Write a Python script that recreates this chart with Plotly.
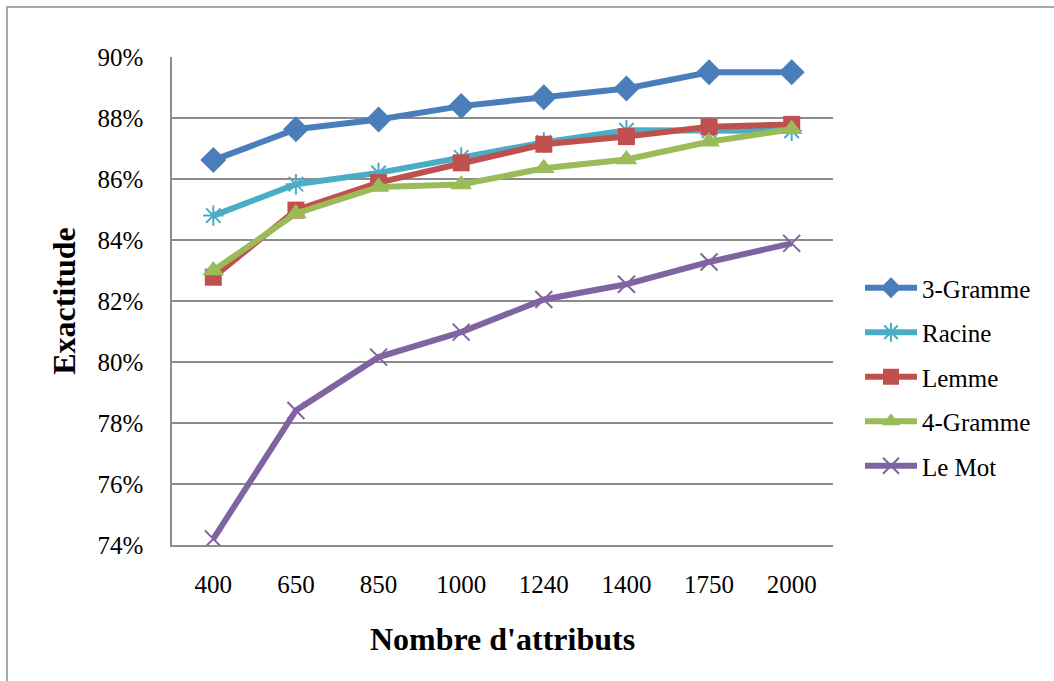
import plotly.graph_objects as go

# Number of attributes (category axis)
attributs = ["400", "650", "850", "1000", "1240", "1400", "1750", "2000"]

# Accuracy (%) per feature type
gramme3 = [86.62, 87.63, 87.95, 88.39, 88.68, 88.97, 89.50, 89.50]
racine = [84.80, 85.83, 86.20, 86.71, 87.20, 87.60, 87.58, 87.58]
lemme = [82.78, 84.98, 85.88, 86.53, 87.14, 87.39, 87.71, 87.79]
gramme4 = [83.00, 84.87, 85.74, 85.82, 86.35, 86.64, 87.22, 87.63]
le_mot = [74.20, 78.41, 80.16, 80.98, 82.05, 82.55, 83.28, 83.89]

y_ticks = [74, 76, 78, 80, 82, 84, 86, 88, 90]
y_labels = [f"{v}%" for v in y_ticks]

FONT = "Liberation Serif"
GRID = "#8c8c8c"

series = [
    ("3-Gramme", gramme3, "#4A7EBB", dict(symbol="diamond", size=20)),
    ("Racine", racine, "#4BACC6", dict(symbol="asterisk-open", size=17,
                                        line=dict(width=2, color="#4BACC6"))),
    ("Lemme", lemme, "#C0504D", dict(symbol="square", size=17)),
    ("4-Gramme", gramme4, "#9BBB59", dict(symbol="triangle-up", size=19)),
    ("Le Mot", le_mot, "#8064A2", dict(symbol="x-thin-open", size=17,
                                        line=dict(width=2, color="#8064A2"))),
]

fig = go.Figure()
for name, vals, color, marker in series:
    fig.add_trace(go.Scatter(
        x=attributs, y=vals, name=name, mode="lines+markers",
        line=dict(color=color, width=6),
        marker=dict(color=color, **marker),
        legendgroup=name,
    ))

# Chart frame (left and top edges visible)
L, R, T, B = 172, 833, 57, 545
W, H = 1054, 681
def px_x(p):
    return (p - L) / (R - L)
def px_y(p):
    return (B - p) / (B - T)

fig.add_shape(type="rect", xref="paper", yref="paper",
              x0=px_x(7), x1=px_x(1070), y0=px_y(7), y1=px_y(700),
              line=dict(color="#8c8c8c", width=1.5), layer="below")

fig.update_layout(
    width=W, height=H,
    margin=dict(l=L, r=W - R, t=T, b=H - B, autoexpand=False),
    paper_bgcolor="white", plot_bgcolor="white",
    font=dict(family=FONT, size=25, color="black"),
    showlegend=True,
    legend=dict(
        x=px_x(860), y=px_y(265), xanchor="left", yanchor="top",
        font=dict(family=FONT, size=25, color="black"),
        traceorder="grouped", tracegroupgap=9, itemwidth=52,
        bgcolor="rgba(0,0,0,0)",
    ),
)

fig.update_xaxes(
    type="category", range=[-0.5, 7.5],
    showgrid=False, showline=True, linecolor=GRID, linewidth=1.5,
    ticks="", ticklabelstandoff=16,
    tickfont=dict(family=FONT, size=25),
    title=dict(text="<b>Nombre d'attributs</b>", standoff=31,
               font=dict(family=FONT, size=32)),
)
fig.update_yaxes(
    range=[74, 90], tickvals=y_ticks, ticktext=y_labels,
    showgrid=True, gridcolor=GRID, gridwidth=1.5,
    showline=True, linecolor=GRID, linewidth=1.5,
    ticks="", ticklabelstandoff=22, zeroline=False,
    tickfont=dict(family=FONT, size=25),
    title=dict(text="<b>Exactitude</b>", standoff=12,
               font=dict(family=FONT, size=32)),
)

fig.write_html("out.html")
